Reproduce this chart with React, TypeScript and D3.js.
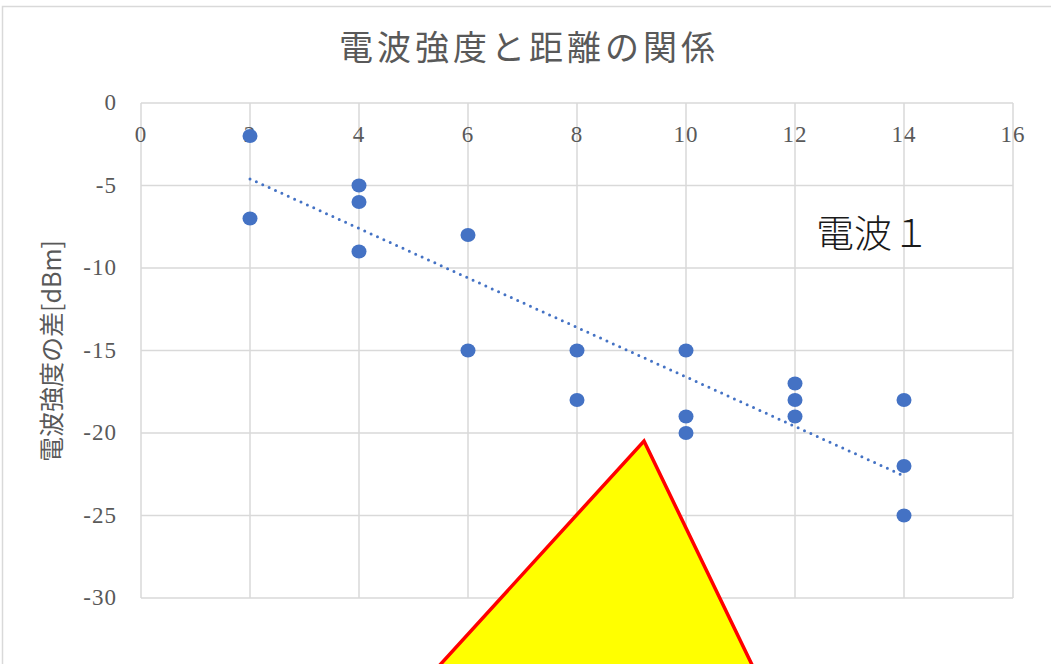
import React from "react";
import * as d3 from "d3";

// Distance (x) and signal-strength difference (y) samples
const distances = [2, 2, 4, 4, 4, 6, 6, 8, 8, 10, 10, 10, 12, 12, 12, 14, 14, 14];
const strengthDiff = [-2, -7, -5, -6, -9, -8, -15, -15, -18, -15, -19, -20, -17, -18, -19, -18, -22, -25];

// Linear trend line end points
const trendX = [2, 14];
const trendY = [-4.6, -22.6];

const xTicks = [0, 2, 4, 6, 8, 10, 12, 14, 16];
const yTicks = [0, -5, -10, -15, -20, -25, -30];

const title = "電波強度と距離の関係";
const yAxisTitle = "電波強度の差[dBm]";
const seriesNote = "電波１";

const W = 1051;
const H = 664;
const plot = { left: 141, right: 1013, top: 103, bottom: 598 };

const serif = "'Liberation Serif', 'DejaVu Serif', serif";
const cjk = "'Noto Sans CJK JP', 'Noto Sans', sans-serif";

export default function App() {
  const x = d3.scaleLinear().domain([0, 16]).range([plot.left, plot.right]);
  const y = d3.scaleLinear().domain([0, -30]).range([plot.top, plot.bottom]);

  const points = distances.map((d, i) => ({ x: d, y: strengthDiff[i] }));
  const trendPath = d3
    .line<number>()
    .x((d) => x(d))
    .y((_, i) => y(trendY[i]))(trendX) as string;

  // Callout triangle overlay (pixel space)
  const tri: [number, number][] = [
    [644, 441],
    [769, 700],
    [408, 700],
  ];

  return (
    <svg
      width={W}
      height={H}
      style={{ position: "fixed", left: 0, top: 0, display: "block", background: "#fff" }}
    >
      <rect x={2.5} y={6.5} width={1100} height={700} fill="#fff" stroke="#d9d9d9" strokeWidth={1.5} />

      <text
        x={529}
        y={51}
        textAnchor="middle"
        dominantBaseline="middle"
        fontFamily={cjk}
        fontSize={34}
        letterSpacing={4}
        fill="#595959"
      >
        {title}
      </text>

      {/* grid */}
      <g stroke="#d9d9d9" strokeWidth={1.5}>
        {xTicks.map((t) => (
          <line key={"gx" + t} x1={x(t)} x2={x(t)} y1={plot.top} y2={plot.bottom} />
        ))}
        {yTicks.map((t) => (
          <line key={"gy" + t} x1={plot.left} x2={plot.right} y1={y(t)} y2={y(t)} />
        ))}
      </g>

      {/* x tick labels, sitting just under the zero line */}
      <g fontFamily={serif} fontSize={23} fill="#595959" textAnchor="middle">
        {xTicks.map((t) => (
          <text key={"tx" + t} x={x(t)} y={y(0) + 34} dominantBaseline="middle" letterSpacing={1}>
            {t}
          </text>
        ))}
      </g>

      {/* y tick labels */}
      <g fontFamily={serif} fontSize={23} fill="#595959" textAnchor="end">
        {yTicks.map((t) => (
          <text key={"ty" + t} x={117} y={y(t) + 2} dominantBaseline="middle" letterSpacing={1}>
            {t === 0 ? "0" : `-${Math.abs(t)}`}
          </text>
        ))}
      </g>

      <text
        transform={`translate(54, 351) rotate(-90)`}
        textAnchor="middle"
        dominantBaseline="middle"
        fontFamily={cjk}
        fontSize={25}
        fill="#595959"
      >
        {yAxisTitle}
      </text>

      {/* data points */}
      <g fill="#4472C4">
        {points.map((p, i) => (
          <ellipse key={i} cx={x(p.x)} cy={y(p.y)} rx={7.5} ry={7} />
        ))}
      </g>

      {/* trend line */}
      <path
        d={trendPath}
        fill="none"
        stroke="#4472C4"
        strokeWidth={3}
        strokeLinecap="round"
        strokeDasharray="0 7"
      />

      <text x={816} y={237} dominantBaseline="middle" fontFamily={cjk} fontSize={38} fontWeight={300} fill="#1a1a1a">
        {seriesNote}
      </text>

      <polygon
        points={tri.map((p) => p.join(",")).join(" ")}
        fill="#ffff00"
        stroke="#ff0000"
        strokeWidth={3.5}
        strokeLinejoin="miter"
      />
    </svg>
  );
}
